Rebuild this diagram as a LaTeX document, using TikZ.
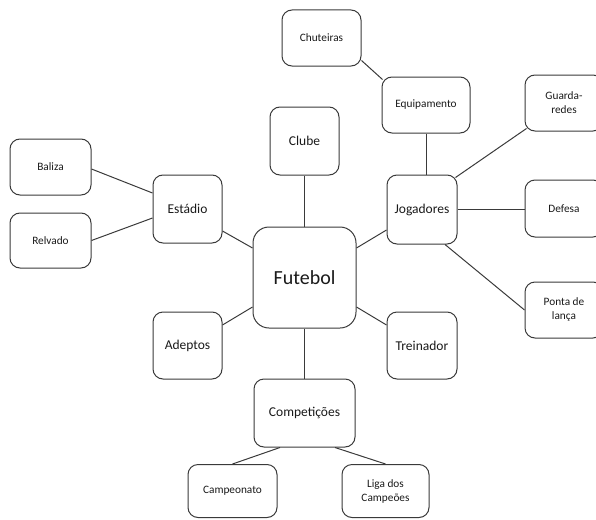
\documentclass[tikz,border=0pt]{standalone}
\usepackage{fontspec}
\setmainfont{Carlito}
\usetikzlibrary{calc}
\definecolor{edge}{HTML}{3A3A3A}
\definecolor{ink}{HTML}{1A1A1A}
\begin{document}
\begin{tikzpicture}[x=1pt,y=-1pt,
  box/.style={draw=edge, line width=1pt, rounded corners=10pt, fill=white,
    inner sep=0pt, align=center, text=ink},
  hub/.style={box, rounded corners=16pt, font=\fontsize{20}{24}\selectfont},
  lvlone/.style={box, font=\fontsize{13.5}{16}\selectfont},
  lvltwo/.style={box, font=\fontsize{11.3}{14}\selectfont},
  link/.style={draw=edge, line width=1pt}]
\useasboundingbox (0,0) rectangle (596,519);

% centre
\node[hub, minimum width=103pt, minimum height=101pt] (fut) at (304.5,277.5) {Futebol};

% first ring
\node[lvlone, minimum width=69pt, minimum height=68pt] (clube) at (304.5,141) {Clube};
\node[lvlone, minimum width=69pt, minimum height=68pt] (est) at (187.5,209) {Estádio};
\node[lvlone, minimum width=70pt, minimum height=69pt] (jog) at (422,209.5) {Jogadores};
\node[lvlone, minimum width=69pt, minimum height=67pt] (ade) at (187.5,345.5) {Adeptos};
\node[lvlone, minimum width=70pt, minimum height=67pt] (tre) at (422,345.5) {Treinador};
\node[lvlone, minimum width=101pt, minimum height=68pt] (comp) at (304.5,413) {Competições};

% second ring
\node[lvltwo, minimum width=81pt, minimum height=56pt] (bal) at (50.5,167) {Baliza};
\node[lvltwo, minimum width=81pt, minimum height=55pt] (rel) at (50.5,240.5) {Relvado};
\node[lvltwo, minimum width=88pt, minimum height=56pt] (equ) at (426,105) {Equipamento};
\node[lvltwo, minimum width=79pt, minimum height=56pt] (chu) at (321.5,38) {Chuteiras};
\node[lvltwo, minimum width=78pt, minimum height=56pt] (gua) at (564,103) {Guarda-\\redes};
\node[lvltwo, minimum width=78pt, minimum height=57pt] (def) at (564,208.5) {Defesa};
\node[lvltwo, minimum width=78pt, minimum height=56pt] (pon) at (564,310) {Ponta de\\lança};
\node[lvltwo, minimum width=89pt, minimum height=53pt] (cam) at (232.5,491) {Campeonato};
\node[lvltwo, minimum width=87pt, minimum height=53pt] (liga) at (385.5,491) {Liga dos\\Campeões};

% connectors around the centre
\draw[link] (clube) -- (fut);
\draw[link] (fut) -- (comp);
\draw[link] ($(est.east)+(0,22)$) -- ($(fut.west)+(0,-29.5)$);
\draw[link] ($(fut.east)+(0,-29.5)$) -- ($(jog.west)+(0,20.5)$);
\draw[link] ($(fut.west)+(0,29.5)$) -- ($(ade.east)+(0,-20.5)$);
\draw[link] ($(fut.east)+(0,29.5)$) -- ($(tre.west)+(0,-20.5)$);

% Estádio
\draw[link] ($(bal.east)+(0,2)$) -- ($(est.west)+(0,-16)$);
\draw[link] ($(rel.east)+(0,0)$) -- ($(est.west)+(0,9)$);

% Jogadores
\draw[link] (equ.south) -- (equ.south |- jog.north);
\draw[link] ($(jog.north east)+(-2,3)$) -- ($(gua.south west)+(2,-3)$);
\draw[link] (jog.east) -- (jog.east -| def.west);
\draw[link] ($(jog.south)+(23,0)$) -- (pon.west);
\draw[link] ($(chu.south east)+(0,-6)$) -- ($(equ.north west)+(1,3)$);

% Competições
\draw[link] ($(comp.south)+(-24.5,0)$) -- (cam.north);
\draw[link] ($(comp.south)+(30.5,0)$) -- (liga.north);
\end{tikzpicture}
\end{document}
